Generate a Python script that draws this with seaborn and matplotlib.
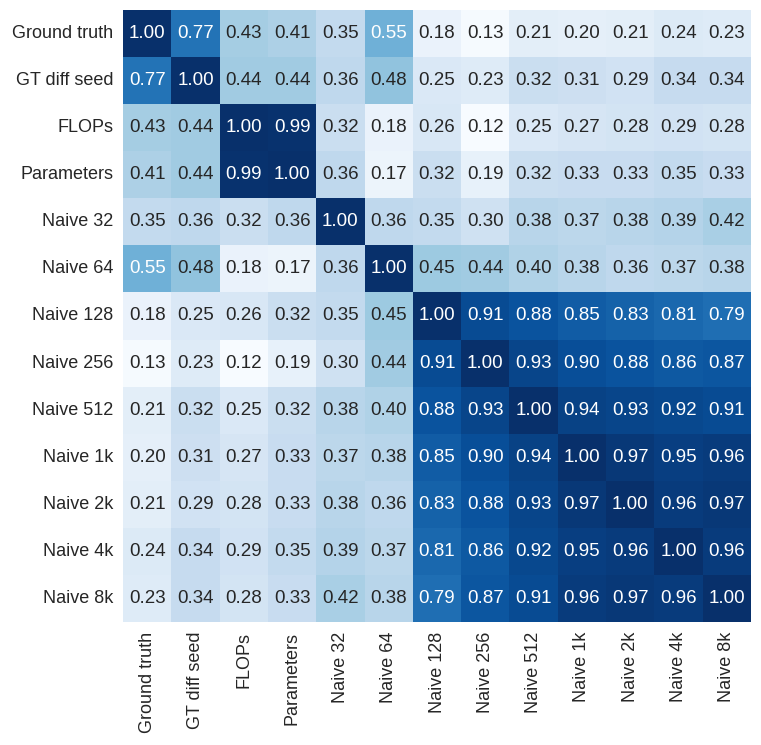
import numpy as np
import pandas as pd
import matplotlib
matplotlib.use("Agg")
import matplotlib.pyplot as plt
import seaborn as sns

labels = ["Ground truth", "GT diff seed", "FLOPs", "Parameters", "Naive 32", "Naive 64",
          "Naive 128", "Naive 256", "Naive 512", "Naive 1k", "Naive 2k", "Naive 4k", "Naive 8k"]

row_ground_truth = [1.00, 0.77, 0.43, 0.41, 0.35, 0.55, 0.18, 0.13, 0.21, 0.20, 0.21, 0.24, 0.23]
row_gt_diff_seed = [0.77, 1.00, 0.44, 0.44, 0.36, 0.48, 0.25, 0.23, 0.32, 0.31, 0.29, 0.34, 0.34]
row_flops        = [0.43, 0.44, 1.00, 0.99, 0.32, 0.18, 0.26, 0.12, 0.25, 0.27, 0.28, 0.29, 0.28]
row_parameters   = [0.41, 0.44, 0.99, 1.00, 0.36, 0.17, 0.32, 0.19, 0.32, 0.33, 0.33, 0.35, 0.33]
row_naive_32     = [0.35, 0.36, 0.32, 0.36, 1.00, 0.36, 0.35, 0.30, 0.38, 0.37, 0.38, 0.39, 0.42]
row_naive_64     = [0.55, 0.48, 0.18, 0.17, 0.36, 1.00, 0.45, 0.44, 0.40, 0.38, 0.36, 0.37, 0.38]
row_naive_128    = [0.18, 0.25, 0.26, 0.32, 0.35, 0.45, 1.00, 0.91, 0.88, 0.85, 0.83, 0.81, 0.79]
row_naive_256    = [0.13, 0.23, 0.12, 0.19, 0.30, 0.44, 0.91, 1.00, 0.93, 0.90, 0.88, 0.86, 0.87]
row_naive_512    = [0.21, 0.32, 0.25, 0.32, 0.38, 0.40, 0.88, 0.93, 1.00, 0.94, 0.93, 0.92, 0.91]
row_naive_1k     = [0.20, 0.31, 0.27, 0.33, 0.37, 0.38, 0.85, 0.90, 0.94, 1.00, 0.97, 0.95, 0.96]
row_naive_2k     = [0.21, 0.29, 0.28, 0.33, 0.38, 0.36, 0.83, 0.88, 0.93, 0.97, 1.00, 0.96, 0.97]
row_naive_4k     = [0.24, 0.34, 0.29, 0.35, 0.39, 0.37, 0.81, 0.86, 0.92, 0.95, 0.96, 1.00, 0.96]
row_naive_8k     = [0.23, 0.34, 0.28, 0.33, 0.42, 0.38, 0.79, 0.87, 0.91, 0.96, 0.97, 0.96, 1.00]

rows = [row_ground_truth, row_gt_diff_seed, row_flops, row_parameters, row_naive_32,
        row_naive_64, row_naive_128, row_naive_256, row_naive_512, row_naive_1k,
        row_naive_2k, row_naive_4k, row_naive_8k]

df = pd.DataFrame(rows, index=labels, columns=labels)

sns.set_theme(style="white")
plt.rcParams['font.family'] = ['Liberation Sans', 'DejaVu Sans']

fig = plt.figure(figsize=(7.61, 7.45), dpi=100)
ax = fig.add_axes([123/761, 1 - 622/745, (751-123)/761, (622-10)/745])
sns.heatmap(df, ax=ax, cmap="Blues", annot=True, fmt=".2f", cbar=False,
            annot_kws={"fontsize": 13.5})
ax.tick_params(axis='both', length=0, labelsize=13, pad=7, colors="#262626")
plt.setp(ax.get_xticklabels(), rotation=90)
plt.setp(ax.get_yticklabels(), rotation=0)
ax.set_xlabel("")
ax.set_ylabel("")
fig.savefig("out.png", dpi=100)
